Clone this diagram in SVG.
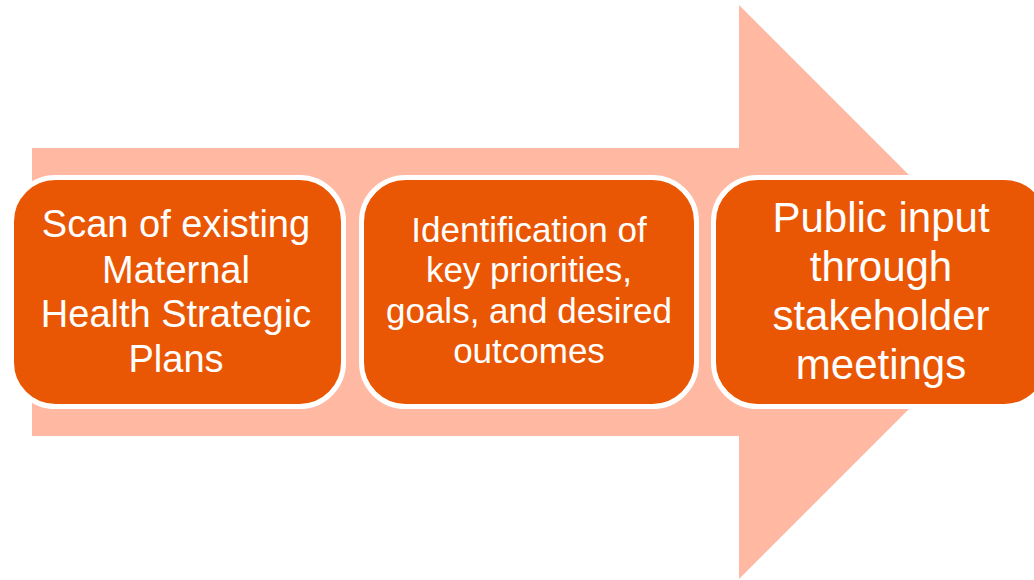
<svg xmlns="http://www.w3.org/2000/svg" width="1034" height="580" viewBox="0 0 1034 580">
<style>
.box{fill:#EA5704;stroke:#FFFFFF;stroke-width:5}
.t{fill:#FFFFFF;font-family:"Liberation Sans","Open Sans",sans-serif;text-anchor:middle}
</style>
<rect width="1034" height="580" fill="#FFFFFF"/>
<g id="arrow">
<polygon points="32,148 739,148 739,5 1026,292 739,579 739,436 32,436" fill="#FFB9A3"/>
</g>
<g id="connectors"></g>
<g id="node1">
<rect class="box" x="11.5" y="177.5" width="332" height="229" rx="44"/>
<text class="t" font-size="38"><tspan x="176" y="237">Scan of existing</tspan><tspan x="176" y="283">Maternal</tspan><tspan x="176" y="327">Health Strategic</tspan><tspan x="176" y="372">Plans</tspan></text>
</g>
<g id="node2">
<rect class="box" x="361.5" y="177.5" width="335" height="229" rx="44"/>
<text class="t" font-size="35"><tspan x="529" y="242">Identification of</tspan><tspan x="529" y="282">key priorities,</tspan><tspan x="529" y="323">goals, and desired</tspan><tspan x="529" y="363">outcomes</tspan></text>
</g>
<g id="node3">
<rect class="box" x="713.5" y="177.5" width="335" height="229" rx="44"/>
<text class="t" font-size="42"><tspan x="881" y="232">Public input</tspan><tspan x="881" y="281">through</tspan><tspan x="881" y="330">stakeholder</tspan><tspan x="881" y="379">meetings</tspan></text>
</g>
</svg>
